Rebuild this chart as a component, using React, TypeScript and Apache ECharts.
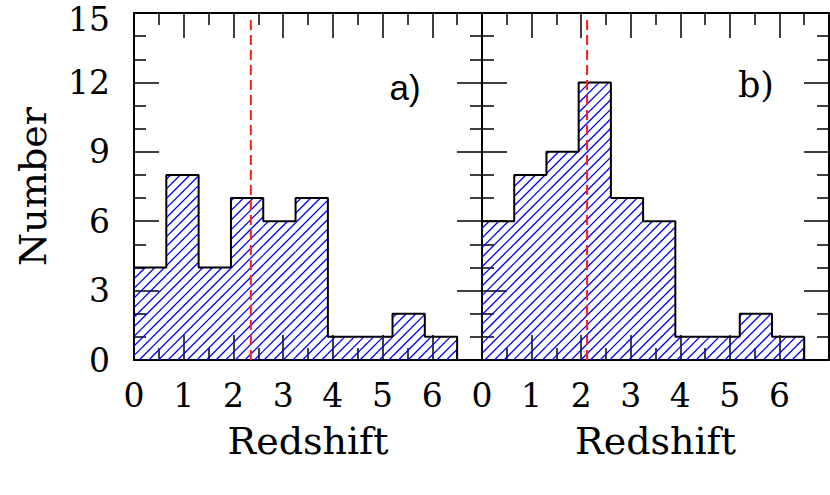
import React, { useEffect, useRef } from "react";
import * as echarts from "echarts";

const binEdges = [0, 0.65, 1.3, 1.95, 2.6, 3.25, 3.9, 4.55, 5.2, 5.85, 6.5];
const countsA = [4, 8, 4, 7, 6, 7, 1, 1, 2, 1];
const countsB = [6, 8, 9, 12, 7, 6, 1, 1, 2, 1];
const medianA = 2.35;
const medianB = 2.12;
const medianTop = 14.7;
const panelLabels = ["a)", "b)"];
const xTitle = "Redshift";
const yTitle = "Number";

const SERIF = "DejaVu Serif";

function binData(counts: number[]) {
  return counts.map((c, i) => [binEdges[i], binEdges[i + 1], c]);
}

function outline(counts: number[]) {
  const pts: number[][] = [];
  counts.forEach((c, i) => {
    pts.push([binEdges[i], c]);
    pts.push([binEdges[i + 1], c]);
  });
  pts.push([binEdges[binEdges.length - 1], 0]);
  return pts;
}

function hatchItem(params: any, api: any) {
  const s = api.value(0);
  const e = api.value(1);
  const v = api.value(2);
  const tl = api.coord([s, v]);
  const br = api.coord([e, 0]);
  const x0 = tl[0], y0 = tl[1], x1 = br[0], y1 = br[1];
  const sp = 9.6;
  const children: any[] = [];
  const kmin = Math.ceil((x0 + y0) / sp);
  const kmax = Math.floor((x1 + y1) / sp);
  for (let k = kmin; k <= kmax; k++) {
    const c = k * sp;
    const xa = Math.max(x0, c - y1);
    const xb = Math.min(x1, c - y0);
    if (xb > xa + 0.2) {
      children.push({
        type: "line",
        shape: { x1: xa, y1: c - xa, x2: xb, y2: c - xb },
        style: { stroke: "#0000ff", lineWidth: 1.3 },
      });
    }
  }
  return { type: "group", children };
}

const tickStyle = { color: "#000", width: 1.5 };

function xAx(grid: number, pos: "bottom" | "top", labels: boolean, name: string) {
  return {
    type: "value",
    gridIndex: grid,
    position: pos,
    min: 0,
    max: 7,
    interval: 1,
    name,
    nameLocation: "middle",
    nameGap: 62,
    nameTextStyle: { fontFamily: SERIF, fontSize: 38, color: "#000" },
    axisLine: { show: true, onZero: false, lineStyle: { color: "#000", width: 2 } },
    axisTick: { show: true, inside: true, length: 25, lineStyle: tickStyle },
    minorTick: { show: true, splitNumber: 2, length: 12, lineStyle: tickStyle },
    splitLine: { show: false },
    minorSplitLine: { show: false },
    axisLabel: {
      show: labels,
      margin: 19,
      fontFamily: SERIF,
      fontSize: 33,
      color: "#000",
      formatter: (v: number) => (v >= 7 ? "" : String(v)),
    },
  };
}

function yAx(grid: number, pos: "left" | "right", labels: boolean, name: string) {
  return {
    type: "value",
    gridIndex: grid,
    position: pos,
    min: 0,
    max: 15,
    interval: 3,
    name,
    nameLocation: "middle",
    nameGap: 82,
    nameRotate: 90,
    nameTextStyle: { fontFamily: SERIF, fontSize: 38, color: "#000" },
    axisLine: { show: true, onZero: false, lineStyle: { color: "#000", width: 2 } },
    axisTick: { show: true, inside: true, length: 25, lineStyle: tickStyle },
    minorTick: { show: true, splitNumber: 3, length: 12, lineStyle: tickStyle },
    splitLine: { show: false },
    minorSplitLine: { show: false },
    axisLabel: {
      show: labels,
      margin: 24,
      fontFamily: SERIF,
      fontSize: 33,
      lineHeight: 26,
      color: "#000",
      formatter: (v: number) => (v >= 15 ? "{top|" + v + "}" : String(v)),
      rich: {
        top: {
          fontFamily: SERIF,
          fontSize: 33,
          lineHeight: 26,
          color: "#000",
          padding: [12, 0, 0, 0],
        },
      },
    },
  };
}

function panelSeries(counts: number[], median: number, xi: number, yi: number) {
  return [
    {
      type: "custom",
      xAxisIndex: xi,
      yAxisIndex: yi,
      renderItem: hatchItem,
      data: binData(counts),
      encode: { x: [0, 1], y: 2 },
      z: 2,
      silent: true,
    },
    {
      type: "line",
      xAxisIndex: xi,
      yAxisIndex: yi,
      data: outline(counts),
      showSymbol: false,
      symbol: "none",
      lineStyle: { color: "#000", width: 2 },
      z: 3,
      silent: true,
    },
    {
      type: "line",
      xAxisIndex: xi,
      yAxisIndex: yi,
      data: [
        [median, 0],
        [median, medianTop],
      ],
      symbol: "none",
      lineStyle: { color: "#ff1a1a", width: 2, type: [10, 5] },
      z: 4,
      silent: true,
    },
  ];
}

export default function App() {
  const ref = useRef<HTMLDivElement>(null);
  useEffect(() => {
    if (!ref.current) return;
    const chart = echarts.init(ref.current, null, { renderer: "svg" });
    chart.setOption({
      animation: false,
      backgroundColor: "#fff",
      grid: [
        { left: 134, top: 13, width: 348, height: 347, containLabel: false, outerBoundsMode: "none" },
        { left: 482, top: 13, width: 347, height: 347, containLabel: false, outerBoundsMode: "none" },
      ],
      xAxis: [
        xAx(0, "bottom", true, xTitle),
        xAx(0, "top", false, ""),
        xAx(1, "bottom", true, xTitle),
        xAx(1, "top", false, ""),
      ],
      yAxis: [
        yAx(0, "left", true, yTitle),
        yAx(0, "right", false, ""),
        yAx(1, "left", false, ""),
        yAx(1, "right", false, ""),
      ],
      series: [
        ...panelSeries(countsA, medianA, 0, 0),
        ...panelSeries(countsB, medianB, 2, 2),
      ],
      graphic: [
        {
          type: "text",
          x: 405,
          y: 87,
          style: {
            text: panelLabels[0],
            fontFamily: "Liberation Sans",
            fontSize: 35,
            fill: "#000",
            align: "center",
            verticalAlign: "middle",
          },
        },
        {
          type: "text",
          x: 756,
          y: 85,
          style: {
            text: panelLabels[1],
            fontFamily: SERIF,
            fontSize: 35,
            fill: "#000",
            align: "center",
            verticalAlign: "middle",
          },
        },
      ],
    });
    return () => chart.dispose();
  }, []);
  return (
    <div
      ref={ref}
      style={{ position: "fixed", left: 0, top: 0, width: 830, height: 495 }}
    />
  );
}
